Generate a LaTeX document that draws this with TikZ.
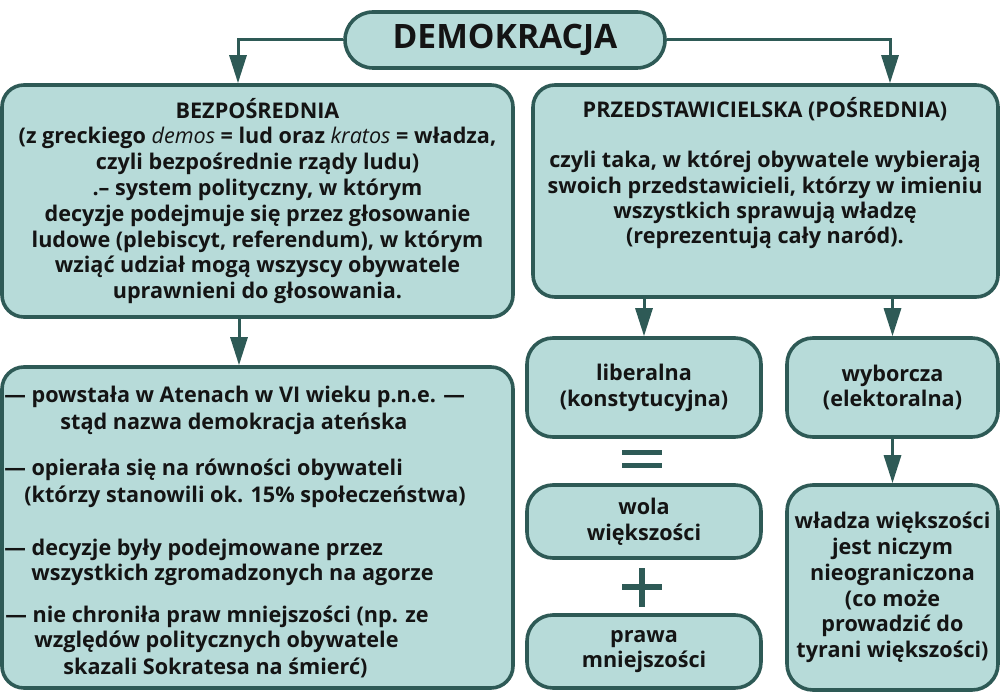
\documentclass[tikz,border=0pt]{standalone}
\usepackage{fontspec}
\setmainfont{Open Sans}
\usetikzlibrary{arrows.meta}
\definecolor{boxfill}{RGB}{183,219,217}
\definecolor{boxline}{RGB}{46,90,86}
\definecolor{ink}{RGB}{20,20,20}
\begin{document}
\begin{tikzpicture}[x=0.5pt,y=-0.5pt,
  box/.style={draw=boxline, fill=boxfill, line width=1.8pt, rounded corners=11pt, inner sep=0pt},
  smallbox/.style={box, rounded corners=13pt},
  txt/.style={font=\fontsize{10.8}{12.9}\selectfont\bfseries, align=center, text=ink},
  linetxt/.style={font=\fontsize{10.8}{12.9}\selectfont\bfseries, text=ink, anchor=base west, inner sep=0pt},
  arr/.style={draw=boxline, line width=1.5pt, -{Triangle[length=14pt,width=8.5pt]}},
  sym/.style={draw=boxline, line width=2.6pt},
]
\useasboundingbox (0,0) rectangle (1000,700);

% title
\node[box, rounded corners=14pt, minimum width=160pt, minimum height=28pt,
      font=\fontsize{16.8}{20}\selectfont\bfseries, text=ink] (title) at (505,40) {DEMOKRACJA};

% main boxes
\node[box, minimum width=255.5pt, minimum height=116pt, txt] (bez) at (257.5,201)
 {BEZPOŚREDNIA\\
  (z greckiego \textmd{\textit{demos}} = lud oraz \textmd{\textit{kratos}} = władza,\\
  czyli bezpośrednie rządy ludu)\\
  .– system polityczny, w którym\\
  decyzje podejmuje się przez głosowanie\\
  ludowe (plebiscyt, referendum), w którym\\
  wziąć udział mogą wszyscy obywatele\\
  uprawnieni do głosowania.};

\node[box, minimum width=232.5pt, minimum height=106pt] (prz) at (765.5,191) {};
\node[txt, font=\fontsize{10.8}{12.6}\selectfont\bfseries] (przt) at (765,173)
 {PRZEDSTAWICIELSKA (POŚREDNIA)\\[12.6pt]
  czyli taka, w której obywatele wybierają\\
  swoich przedstawicieli, którzy w imieniu\\
  wszystkich sprawują władzę\\
  (reprezentują cały naród).};

\node[box, minimum width=255.5pt, minimum height=160.5pt] (ath) at (257.5,527.5) {};
\node[linetxt] (a1) at (4,402) {— powstała w Atenach w VI wieku p.n.e. —};
\node[linetxt] (a2) at (60,429) {stąd nazwa demokracja ateńska};
\node[linetxt] (a3) at (4,475) {— opierała się na równości obywateli};
\node[linetxt] (a4) at (24,502) {(którzy stanowili ok. 15\% społeczeństwa)};
\node[linetxt] (a5) at (4,555) {— decyzje były podejmowane przez};
\node[linetxt] (a6) at (31,580) {wszystkich zgromadzonych na agorze};
\node[linetxt] (a7) at (5,622) {— nie chroniła praw mniejszości (np. ze};
\node[linetxt] (a8) at (34,647) {względów politycznych obywatele};
\node[linetxt] (a9) at (63,674) {skazali Sokratesa na śmierć)};

% small boxes
\node[smallbox, minimum width=117pt, minimum height=49.5pt, txt] (lib) at (644,387.5)
 {liberalna\\(konstytucyjna)};
\node[smallbox, minimum width=105.5pt, minimum height=49.5pt, txt] (wyb) at (892.5,387.5)
 {wyborcza\\(elektoralna)};
\node[smallbox, minimum width=117pt, minimum height=36.5pt, txt] (wola) at (644,521.5)
 {wola\\większości};
\node[smallbox, minimum width=117pt, minimum height=36.5pt, txt] (prawa) at (644,651.5)
 {prawa\\mniejszości};
\node[smallbox, minimum width=105.5pt, minimum height=102.5pt, txt] (wladza) at (892.5,587.5)
 {władza większości\\jest niczym\\nieograniczona\\(co może\\prowadzić do\\tyrani większości)};

% symbols
\draw[sym] (622,452.5) -- (662,452.5);
\draw[sym] (622,465.5) -- (662,465.5);
\draw[sym] (622,587) -- (662,587);
\draw[sym] (642,568) -- (642,607);

% connectors
\coordinate (lx) at (238,0);
\coordinate (rx) at (890,0);
\coordinate (dx) at (239,0);
\draw[arr] (title.west) -| (bez.north -| lx);
\draw[arr] (title.east) -| (prz.north -| rx);
\draw[arr] (bez.south -| dx) -- (ath.north -| dx);
\draw[arr] (prz.south -| lib.north) -- (lib.north);
\draw[arr] (prz.south -| wyb.north) -- (wyb.north);
\draw[arr] (wyb.south) -- (wladza.north);
\end{tikzpicture}
\end{document}
